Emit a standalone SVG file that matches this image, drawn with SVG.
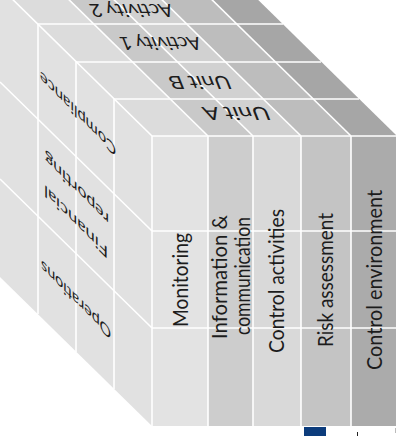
<svg xmlns="http://www.w3.org/2000/svg" width="396" height="436" viewBox="0 0 396 436">
  <style>
    .edge { stroke: #ffffff; stroke-width: 1.6; fill: none; }
    .lbl { font-family: Lato, "Open Sans", "Liberation Sans", sans-serif; fill: #1c1c1c; text-anchor: middle; }
    .front { font-size: 21px; }
    .side { font-size: 16px; }
    .top { font-size: 18px; }
  </style>
  <rect width="396" height="436" fill="#ffffff"/>

  <!-- left face: objectives (depth x 0..152) -->
  <g id="face-objectives">
    <polygon points="152,136 152,426 0,277 0,-13" fill="#e1e1e1"/>
  </g>

  <!-- top face: units / activities, one strip per component column -->
  <g id="face-units">
    <polygon points="152,136 208,136 56,-13 0,-13" fill="#dcdcdc"/>
    <polygon points="208,136 253,136 101,-13 56,-13" fill="#c9c9c9"/>
    <polygon points="253,136 301,136 149,-13 101,-13" fill="#d1d1d1"/>
    <polygon points="301,136 351,136 199,-13 149,-13" fill="#bdbdbd"/>
    <polygon points="351,136 397,136 245,-13 199,-13" fill="#a6a6a6"/>
  </g>

  <!-- front face: the five components -->
  <g id="face-components">
    <rect x="152" y="136" width="56" height="290" fill="#e3e3e3"/>
    <rect x="208" y="136" width="45" height="290" fill="#cdcdcd"/>
    <rect x="253" y="136" width="48" height="290" fill="#d9d9d9"/>
    <rect x="301" y="136" width="50" height="290" fill="#c4c4c4"/>
    <rect x="351" y="136" width="46" height="290" fill="#ababab"/>
  </g>

  <!-- grid lines between the cells -->
  <g id="grid">
    <!-- front face -->
    <line class="edge" x1="152" y1="136" x2="397" y2="136"/>
    <line class="edge" x1="152" y1="231" x2="397" y2="231"/>
    <line class="edge" x1="152" y1="328" x2="397" y2="328"/>
    <line class="edge" x1="152" y1="136" x2="152" y2="426"/>
    <line class="edge" x1="208" y1="136" x2="208" y2="426"/>
    <line class="edge" x1="253" y1="136" x2="253" y2="426"/>
    <line class="edge" x1="301" y1="136" x2="301" y2="426"/>
    <line class="edge" x1="351" y1="136" x2="351" y2="426"/>
    <!-- top face -->
    <line class="edge" x1="114" y1="99" x2="359" y2="99"/>
    <line class="edge" x1="76" y1="62" x2="321" y2="62"/>
    <line class="edge" x1="38" y1="24" x2="283" y2="24"/>
    <line class="edge" x1="152" y1="136" x2="0" y2="-13"/>
    <line class="edge" x1="208" y1="136" x2="56" y2="-13"/>
    <line class="edge" x1="253" y1="136" x2="101" y2="-13"/>
    <line class="edge" x1="301" y1="136" x2="149" y2="-13"/>
    <line class="edge" x1="351" y1="136" x2="199" y2="-13"/>
    <!-- left face -->
    <line class="edge" x1="114" y1="99" x2="114" y2="389"/>
    <line class="edge" x1="76" y1="62" x2="76" y2="352"/>
    <line class="edge" x1="38" y1="24" x2="38" y2="314"/>
    <line class="edge" x1="152" y1="231" x2="0" y2="82"/>
    <line class="edge" x1="152" y1="328" x2="0" y2="179"/>
  </g>

  <!-- component labels -->
  <g id="labels-components" class="lbl front">
    <text transform="translate(188,280) rotate(-90)" textLength="94" lengthAdjust="spacingAndGlyphs">Monitoring</text>
    <text transform="translate(227,277) rotate(-90)" textLength="124" lengthAdjust="spacingAndGlyphs">Information &amp;</text>
    <text transform="translate(250,276) rotate(-90)" textLength="118" lengthAdjust="spacingAndGlyphs">communication</text>
    <text transform="translate(284,281) rotate(-90)" textLength="144" lengthAdjust="spacingAndGlyphs">Control activities</text>
    <text transform="translate(333,280) rotate(-90)" textLength="134" lengthAdjust="spacingAndGlyphs">Risk assessment</text>
    <text transform="translate(382,280) rotate(-90)" textLength="180" lengthAdjust="spacingAndGlyphs">Control environment</text>
  </g>

  <!-- objective labels, sheared onto the left face -->
  <g id="labels-objectives" class="lbl side">
    <text transform="translate(78,114) matrix(-1,-1,0,-1,0,0)" y="5.8" textLength="76" lengthAdjust="spacingAndGlyphs">Compliance</text>
    <text transform="translate(77,189) matrix(-1,-1,0,-1,0,0)" y="5.8" textLength="64" lengthAdjust="spacingAndGlyphs">reporting</text>
    <text transform="translate(76,222) matrix(-1,-1,0,-1,0,0)" y="5.8" textLength="64" lengthAdjust="spacingAndGlyphs">Financial</text>
    <text transform="translate(76,300) matrix(-1,-1,0,-1,0,0)" y="5.8" textLength="70" lengthAdjust="spacingAndGlyphs">Operations</text>
  </g>

  <!-- unit / activity labels, sheared onto the top face -->
  <g id="labels-units" class="lbl top">
    <text transform="translate(236.5,113.5) matrix(-1,0,-0.4,-1,0,0)" y="6.5" textLength="66" lengthAdjust="spacingAndGlyphs">Unit A</text>
    <text transform="translate(200,82.5) matrix(-1,0,-0.4,-1,0,0)" y="6.5" textLength="61" lengthAdjust="spacingAndGlyphs">Unit B</text>
    <text transform="translate(160.5,43.5) matrix(-1,0,-0.4,-1,0,0)" y="6.5" textLength="80" lengthAdjust="spacingAndGlyphs">Activity 1</text>
    <text transform="translate(131.5,11) matrix(-1,0,-0.4,-1,0,0)" y="6.5" textLength="82" lengthAdjust="spacingAndGlyphs">Activity 2</text>
  </g>

  <!-- marks below the cube -->
  <g id="footer">
    <rect x="304" y="427" width="22" height="9" fill="#0c3c7c"/>
    <line x1="357.5" y1="432" x2="357.5" y2="436" stroke="#222222" stroke-width="1"/>
    <line x1="395.5" y1="428" x2="395.5" y2="433" stroke="#bbbbbb" stroke-width="1"/>
  </g>
</svg>
